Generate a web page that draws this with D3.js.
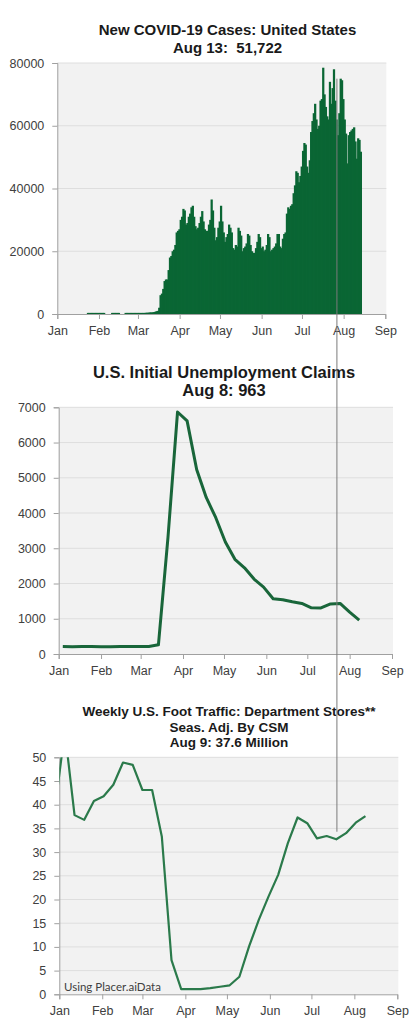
<!DOCTYPE html>
<html>
<head>
<meta charset="utf-8">
<script src="https://cdn.jsdelivr.net/npm/d3@7"></script>
<style>
  html, body { margin: 0; padding: 0; background: #ffffff; }
  svg { display: block; }
  text { font-family: "Liberation Sans", Arial, sans-serif; white-space: pre; }
</style>
</head>
<body>
<svg id="chart" width="415" height="1024"></svg>
<script>
// ---------------- DATA ----------------
// Chart 1: daily new COVID-19 cases, United States (starting Jan 22, 2020)
const casesStart = "2020-01-22";
const casesJan = [0, 350, 350, 350, 350, 350, 350, 350, 350, 350];
const casesFeb = [350, 350, 350, 350, 0, 0, 0, 0, 0, 350, 350, 350, 350, 350, 350, 0, 0, 0, 0,
                  350, 350, 350, 350, 350, 350, 350, 350, 350, 350];
const casesMar = [350, 350, 350, 350, 350, 400, 400, 450, 500, 500, 550, 600, 700, 900, 1000, 2000,
                  6000, 6500, 8000, 10500, 11000, 11000, 14000, 18000, 18500, 20000, 20500, 22000,
                  26000, 26500, 27000];
const casesApr = [30000, 31000, 33500, 33000, 28500, 29000, 31000, 32000, 34000, 34500, 31000, 28000,
                  27000, 27500, 29000, 31000, 32800, 29500, 27000, 26500, 26500, 28500, 30000, 36500,
                  33000, 27500, 23500, 24500, 27500, 29500];
const casesMay = [34500, 29500, 26000, 23000, 24500, 25500, 28500, 27500, 26000, 21000, 20500, 22000,
                  21500, 27500, 26500, 25000, 20000, 21000, 21500, 22500, 25500, 25000, 22000, 20000,
                  19500, 19500, 21000, 23000, 25500, 24500, 21000];
const casesJun = [21500, 20000, 20500, 22000, 25500, 24500, 20000, 20500, 21000, 21500, 22500, 25500,
                  25500, 21500, 21000, 24000, 25500, 26000, 32000, 34000, 33500, 34500, 35000, 38500,
                  41000, 45500, 45000, 42000, 44000, 47000];
const casesJul = [52000, 54500, 54000, 47000, 45000, 49000, 58000, 61500, 64000, 67000, 62000, 59000,
                  60000, 68000, 68500, 78500, 70000, 66000, 63000, 62000, 74000, 67000, 72000, 78000,
                  68000, 62000, 57000, 64000, 75000, 74500, 68500];
const casesAug = [62000, 57500, 48000, 57000, 58000, 58500, 59000, 59500, 55000, 49500, 56000, 55500, 51722];
const casesTicks = [0, 20000, 40000, 60000, 80000];

// Chart 2: weekly initial unemployment claims (thousands)
const claimsWeeks = ["2020-01-04", "2020-01-11", "2020-01-18", "2020-01-25", "2020-02-01", "2020-02-08",
  "2020-02-15", "2020-02-22", "2020-02-29", "2020-03-07", "2020-03-14", "2020-03-21", "2020-03-28",
  "2020-04-04", "2020-04-11", "2020-04-18", "2020-04-25", "2020-05-02", "2020-05-09", "2020-05-16",
  "2020-05-23", "2020-05-30", "2020-06-06", "2020-06-13", "2020-06-20", "2020-06-27", "2020-07-04",
  "2020-07-11", "2020-07-18", "2020-07-25", "2020-08-01", "2020-08-08"];
const claimsValues = [212, 207, 210, 212, 205, 205, 210, 210, 212, 210, 260, 3307, 6867,
  6615, 5237, 4442, 3867, 3176, 2687, 2446, 2126, 1897, 1566, 1540, 1482, 1435, 1310,
  1307, 1422, 1435, 1186, 963];
const claimsTicks = [0, 1000, 2000, 3000, 4000, 5000, 6000, 7000];

// Chart 3: weekly foot traffic, department stores (millions)
const footWeeks = ["2019-12-29", "2020-01-05", "2020-01-12", "2020-01-19", "2020-01-26", "2020-02-02",
  "2020-02-09", "2020-02-16", "2020-02-23", "2020-03-01", "2020-03-08", "2020-03-15", "2020-03-22",
  "2020-03-29", "2020-04-05", "2020-04-12", "2020-04-19", "2020-04-26", "2020-05-03", "2020-05-10",
  "2020-05-17", "2020-05-24", "2020-05-31", "2020-06-07", "2020-06-14", "2020-06-21", "2020-06-28",
  "2020-07-05", "2020-07-12", "2020-07-19", "2020-07-26", "2020-08-02", "2020-08-09"];
const footValues = [39.5, 55.5, 37.8, 36.8, 40.8, 41.8, 44.2, 48.9, 48.4, 43.1, 43.1, 33.3, 7.2,
  1.1, 1.1, 1.1, 1.3, 1.6, 1.9, 3.7, 10.1, 15.7, 20.6, 25.2, 31.9, 37.3, 36.1, 32.9, 33.4,
  32.7, 34.0, 36.2, 37.6];
const footTicks = [0, 5, 10, 15, 20, 25, 30, 35, 40, 45, 50];

// Shared x-axis range and annotation
const monthStart = "2020-01-01";
const monthEnd = "2020-09-01";
const markerDate = "2020-07-27";
const markerTopValue = 75000;   // where the marker line begins (chart 1 scale)
const markerBottomValue = 34.3; // where the marker line ends (chart 3 scale)

const titles1 = ["New COVID-19 Cases: United States", "Aug 13:  51,722"];
const titles2 = ["U.S. Initial Unemployment Claims", "Aug 8: 963"];
const titles3 = ["Weekly U.S. Foot Traffic: Department Stores**", "Seas. Adj. By CSM", "Aug 9: 37.6 Million"];
const sourceNote = "Using Placer.aiData";

// ---------------- DRAWING ----------------
const parse = d3.timeParse("%Y-%m-%d");
const svg = d3.select("#chart");
const fmtMonth = d3.timeFormat("%b");
const GRID = "#dedede", BG = "#f2f2f2", AXIS = "#a0a0a0", LABEL = "#404040";

function frame(g, x, y, ticks, id) {
  const [x0, x1] = x.range();
  const [yb, yt] = y.range();
  g.append("rect").attr("x", x0).attr("y", yt).attr("width", x1 - x0 + 1).attr("height", yb - yt)
    .attr("fill", BG);
  g.append("defs").append("clipPath").attr("id", id)
    .append("rect").attr("x", x0).attr("y", yt).attr("width", x1 - x0 + 1).attr("height", yb - yt);
  g.selectAll(".grid").data(ticks.filter(t => t !== 0)).join("line")
    .attr("x1", x0).attr("x2", x1 + 1)
    .attr("y1", d => y(d)).attr("y2", d => y(d))
    .attr("stroke", GRID).attr("stroke-width", 1);
}

function axes(g, x, y, ticks) {
  const ya = g.append("g").attr("transform", `translate(${x.range()[0]},0)`)
    .call(d3.axisLeft(y).tickValues(ticks).tickSize(5).tickPadding(8).tickFormat(d3.format("d")));
  const xa = g.append("g").attr("transform", `translate(0,${y.range()[0]})`)
    .call(d3.axisBottom(x).ticks(d3.timeMonth.every(1)).tickSize(5).tickPadding(7).tickFormat(fmtMonth));
  [ya, xa].forEach(a => {
    a.select(".domain").attr("stroke", AXIS);
    a.selectAll(".tick line").attr("stroke", AXIS);
    a.selectAll("text").attr("fill", LABEL).style("font-size", "12.5px")
      .style("font-family", "'Liberation Sans', Arial, sans-serif");
  });
}

function titleBlock(lines, cx, ys, size) {
  svg.append("g").selectAll("text").data(lines).join("text")
    .attr("x", cx).attr("y", (d, i) => ys[i])
    .attr("text-anchor", "middle").attr("dominant-baseline", "central")
    .attr("xml:space", "preserve")
    .style("font-weight", "bold").style("font-size", size + "px").attr("fill", "#1a1a1a")
    .text(d => d);
}

const t0 = parse(monthStart), t1 = parse(monthEnd);

// ---- Chart 1: bars ----
const casesAll = [].concat(casesJan, casesFeb, casesMar, casesApr, casesMay, casesJun, casesJul, casesAug);
const cStart = parse(casesStart);
const casesData = casesAll.map((v, i) => ({ date: d3.timeDay.offset(cStart, i), value: v }));

const x1s = d3.scaleTime().domain([t0, t1]).range([57.3, 385.3]);
const y1s = d3.scaleLinear().domain([0, 80000]).range([314, 63]);
const g1 = svg.append("g");
frame(g1, x1s, y1s, casesTicks, "clip1");
g1.append("g").selectAll("rect").data(casesData.filter(d => d.value > 0)).join("rect")
  .attr("x", d => x1s(d.date))
  .attr("width", d => x1s(d3.timeDay.offset(d.date, 1)) - x1s(d.date) + 0.9)
  .attr("y", d => y1s(d.value))
  .attr("height", d => y1s(0) - y1s(d.value))
  .attr("fill", "#0a6634");
axes(g1, x1s, y1s, casesTicks);
titleBlock(titles1, 227.5, [29, 47], 15);

// ---- Chart 2: claims line ----
const claimsData = claimsWeeks.map((d, i) => ({ date: parse(d), value: claimsValues[i] }));
const x2s = d3.scaleTime().domain([t0, t1]).range([58.7, 392]);
const y2s = d3.scaleLinear().domain([0, 7000]).range([654, 407.3]);
const g2 = svg.append("g");
frame(g2, x2s, y2s, claimsTicks, "clip2");
axes(g2, x2s, y2s, claimsTicks);
g2.append("path").datum(claimsData)
  .attr("fill", "none").attr("stroke", "#19663a").attr("stroke-width", 3)
  .attr("stroke-linejoin", "round")
  .attr("d", d3.line().x(d => x2s(d.date)).y(d => y2s(d.value)));
titleBlock(titles2, 224, [371.7, 390], 16.5);

// ---- Chart 3: foot traffic line ----
const footData = footWeeks.map((d, i) => ({ date: parse(d), value: footValues[i] }));
const x3s = d3.scaleTime().domain([t0, t1]).range([59.3, 397.3]);
const y3s = d3.scaleLinear().domain([0, 50]).range([994.3, 757.3]);
const g3 = svg.append("g");
frame(g3, x3s, y3s, footTicks, "clip3");
g3.append("text").attr("x", 64).attr("y", 986).attr("dominant-baseline", "central")
  .style("font-family", "Lato, 'Open Sans', sans-serif").style("font-size", "11.5px")
  .attr("fill", LABEL).text(sourceNote);
axes(g3, x3s, y3s, footTicks);
g3.append("path").datum(footData).attr("clip-path", "url(#clip3)")
  .attr("fill", "none").attr("stroke", "#2b7a4b").attr("stroke-width", 2.2)
  .attr("stroke-linejoin", "round")
  .attr("d", d3.line().x(d => x3s(d.date)).y(d => y3s(d.value)));
titleBlock(titles3, 229, [711.7, 727.3, 742.7], 13.5);

// ---- Marker line across the charts ----
const mx = x1s(parse(markerDate));
svg.append("line").attr("x1", mx).attr("x2", mx)
  .attr("y1", y1s(markerTopValue)).attr("y2", y3s(markerBottomValue))
  .attr("stroke", "#7a7a7a").attr("stroke-width", 1);
</script>
</body>
</html>
